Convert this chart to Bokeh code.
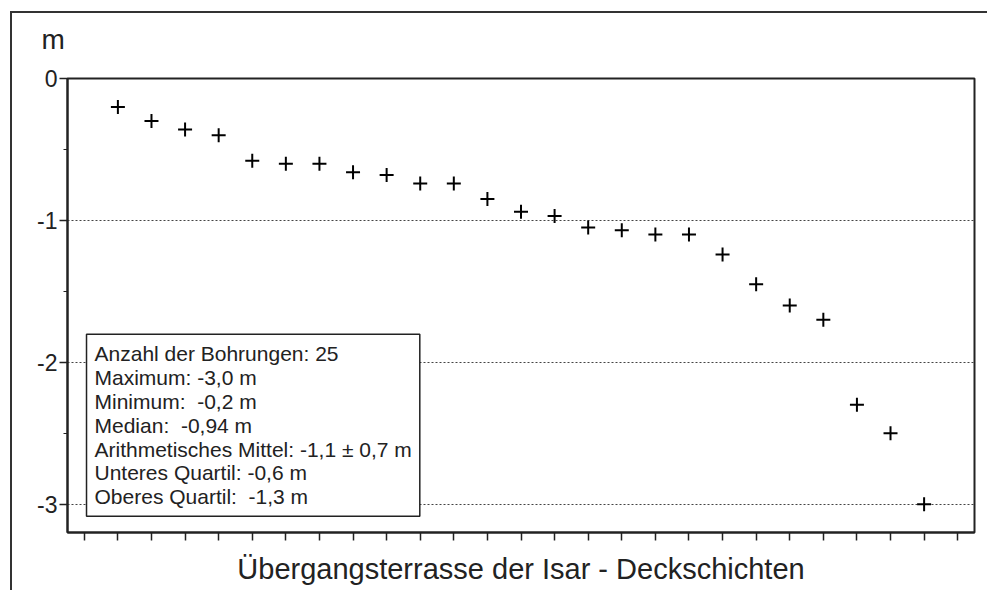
from bokeh.plotting import figure
from bokeh.models import FixedTicker, Label, Range1d
from bokeh.embed import file_html
from bokeh.resources import INLINE

# ---- data ----
depths = [-0.2, -0.3, -0.36, -0.4, -0.58, -0.6, -0.6, -0.66, -0.68, -0.74, -0.74,
          -0.85, -0.94, -0.97, -1.05, -1.07, -1.1, -1.1, -1.24, -1.45, -1.6, -1.7,
          -2.3, -2.5, -3.0]
bohrungen = list(range(1, len(depths) + 1))
y_ticks = [0, -1, -2, -3]
y_minor_ticks = [-0.5, -1.5, -2.5]
y_tick_labels = ["0", "-1", "-2", "-3"]
x_ticks = list(range(0, len(depths) + 2))
unit_label = "m"
x_title = "Übergangsterrasse der Isar - Deckschichten"
NB = "\u00a0"
stats_lines = [
    "Anzahl der Bohrungen: 25",
    "Maximum: -3,0 m",
    "Minimum:" + NB + " -0,2 m",
    "Median:" + NB + " -0,94 m",
    "Arithmetisches Mittel: -1,1 \u00b1 0,7 m",
    "Unteres Quartil: -0,6 m",
    "Oberes Quartil:" + NB + " -1,3 m",
]

FONT = "Liberation Sans"
DARK = "#222222"

p = figure(width=987, height=590, output_backend="svg", toolbar_location=None,
           x_range=Range1d(-0.5, len(depths) + 1.5), y_range=Range1d(-3.2, 0),
           min_border_left=67, min_border_right=13, min_border_top=78,
           min_border_bottom=58, background_fill_color="white",
           border_fill_alpha=0)
# outer frame lines (left and top) drawn behind the transparent canvas border
p.styles = {
    "background-color": "white",
    "background-image": "linear-gradient(#333333, #333333), linear-gradient(#333333, #333333)",
    "background-size": "2px 100%, 100% 2px",
    "background-position": "10px 11px, 10px 11px",
    "background-repeat": "no-repeat",
}

# "m" unit label as title
p.title.text = unit_label
p.title.text_font = FONT
p.title.text_font_size = "28px"
p.title.text_font_style = "normal"
p.title.text_color = DARK
p.title.align = "left"
p.title.vertical_align = "top"
p.title.offset = -26
p.title.standoff = 44

p.outline_line_color = DARK
p.outline_line_width = 2

# y axis
yt = FixedTicker(ticks=y_ticks, minor_ticks=y_minor_ticks)
p.yaxis.ticker = yt
p.yaxis.major_label_overrides = dict(zip(y_ticks, y_tick_labels))
p.yaxis.major_label_text_font = FONT
p.yaxis.major_label_text_font_size = "23px"
p.yaxis.major_label_text_color = DARK
p.yaxis.major_label_standoff = 2
p.yaxis.major_tick_out = 8
p.yaxis.major_tick_in = 0
p.yaxis.minor_tick_out = 4
p.yaxis.minor_tick_in = 0
p.yaxis.axis_line_width = 2
p.yaxis.axis_line_color = DARK
p.yaxis.major_tick_line_color = DARK
p.yaxis.minor_tick_line_color = DARK
p.yaxis.major_tick_line_width = 1.5

# x axis (ticks only, no tick labels)
p.xaxis.ticker = FixedTicker(ticks=x_ticks, minor_ticks=[])
p.xaxis.major_label_overrides = {t: "" for t in x_ticks}
p.xaxis.major_tick_out = 8
p.xaxis.major_tick_in = 0
p.xaxis.major_tick_line_width = 1.5
p.xaxis.major_tick_line_color = DARK
p.xaxis.major_label_text_font_size = "1px"
p.xaxis.major_label_standoff = 0
p.xaxis.axis_line_width = 2
p.xaxis.axis_line_color = DARK
p.xaxis.axis_label = x_title
p.xaxis.axis_label_text_font = FONT
p.xaxis.axis_label_text_font_size = "29px"
p.xaxis.axis_label_text_font_style = "normal"
p.xaxis.axis_label_text_color = DARK
p.xaxis.axis_label_standoff = 12

# grid
p.xgrid.visible = False
p.ygrid.ticker = yt
p.ygrid.grid_line_color = "#444444"
p.ygrid.grid_line_dash = "2 2"
p.ygrid.grid_line_width = 1

# points
p.scatter(bohrungen, depths, marker="cross", size=14, line_width=2, color="black")

# statistics box
box = Label(x=0.066, y=-1.803, x_units="data", y_units="data",
            text="\n".join(stats_lines), text_font=FONT, text_font_size="21px",
            text_line_height=1.035, text_align="left", text_baseline="top",
            text_color=DARK, padding=8, border_line_color=DARK,
            border_line_width=1.5, background_fill_color="white")
p.add_layout(box)

open("out.html", "w").write(file_html(p, INLINE))
